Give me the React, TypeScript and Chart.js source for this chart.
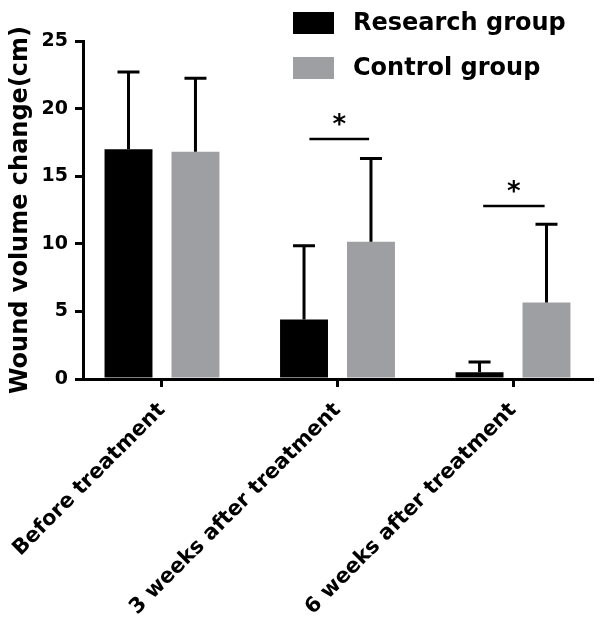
import React, { useEffect, useRef } from "react";
import { Chart, registerables } from "chart.js";

Chart.register(...registerables);

const categories = ["Before treatment", "3 weeks after treatment", "6 weeks after treatment"];
const seriesNames = ["Research group", "Control group"];
const researchMeans = [17.0, 4.4, 0.5];
const researchSD = [5.7, 5.45, 0.75];
const controlMeans = [16.8, 10.15, 5.65];
const controlSD = [5.45, 6.15, 5.8];
const yTicks = [0, 5, 10, 15, 20, 25];
const sigStart = [0.84, 1.83];
const sigEnd = [1.18, 2.18];
const sigY = [17.75, 12.8];
const sigLabel = ["*", "*"];

const FONT = "'DejaVu Sans', Arial, sans-serif";
const BLACK = "#000000";
const GRAY = "#9e9fa3";

export default function App() {
  const ref = useRef<HTMLCanvasElement | null>(null);

  useEffect(() => {
    if (!ref.current) return;
    const sds = [researchSD, controlSD];

    const errorBars = {
      id: "errorBars",
      afterDatasetsDraw(chart: any) {
        const ctx = chart.ctx;
        const y = chart.scales.y;
        ctx.save();
        ctx.strokeStyle = BLACK;
        ctx.lineWidth = 3;
        chart.data.datasets.forEach((ds: any, di: number) => {
          const meta = chart.getDatasetMeta(di);
          meta.data.forEach((bar: any, i: number) => {
            const v = ds.data[i].y;
            const top = y.getPixelForValue(v + sds[di][i]);
            const base = y.getPixelForValue(v);
            ctx.beginPath();
            ctx.moveTo(bar.x, base);
            ctx.lineTo(bar.x, top);
            ctx.moveTo(bar.x - 11, top);
            ctx.lineTo(bar.x + 11, top);
            ctx.stroke();
          });
        });
        ctx.restore();
      },
    };

    const significance = {
      id: "significance",
      afterDatasetsDraw(chart: any) {
        const ctx = chart.ctx;
        const xs = chart.scales.x;
        const ys = chart.scales.y;
        ctx.save();
        ctx.strokeStyle = BLACK;
        ctx.fillStyle = BLACK;
        ctx.lineWidth = 2.5;
        for (let i = 0; i < sigY.length; i++) {
          const x1 = xs.getPixelForValue(sigStart[i]);
          const x2 = xs.getPixelForValue(sigEnd[i]);
          const yy = ys.getPixelForValue(sigY[i]);
          ctx.beginPath();
          ctx.moveTo(x1, yy);
          ctx.lineTo(x2, yy);
          ctx.stroke();
          ctx.font = `bold 26px ${FONT}`;
          ctx.textAlign = "center";
          ctx.textBaseline = "middle";
          ctx.fillText(sigLabel[i], (x1 + x2) / 2, yy - 13);
        }
        ctx.restore();
      },
    };

    const customLegend = {
      id: "customLegend",
      afterDraw(chart: any) {
        const ctx = chart.ctx;
        ctx.save();
        chart.data.datasets.forEach((ds: any, i: number) => {
          const top = 12 + i * 45;
          ctx.fillStyle = ds.backgroundColor;
          ctx.fillRect(293, top, 41, 22);
          ctx.fillStyle = BLACK;
          ctx.font = `bold 24px ${FONT}`;
          ctx.textAlign = "left";
          ctx.textBaseline = "middle";
          ctx.fillText(ds.label, 353, top + 12);
        });
        ctx.restore();
      },
    };

    const chart = new Chart(ref.current, {
      type: "bar",
      data: {
        datasets: [
          {
            label: seriesNames[0],
            data: researchMeans.map((v, i) => ({ x: i, y: v })),
            backgroundColor: BLACK,
            borderWidth: 0,
            categoryPercentage: 0.763,
            barPercentage: 0.716,
          },
          {
            label: seriesNames[1],
            data: controlMeans.map((v, i) => ({ x: i, y: v })),
            backgroundColor: GRAY,
            borderWidth: 0,
            categoryPercentage: 0.763,
            barPercentage: 0.716,
          },
        ],
      },
      options: {
        responsive: false,
        animation: false,
        devicePixelRatio: 1,
        layout: { padding: { top: 41, right: 8, bottom: 0, left: 0 } },
        plugins: {
          legend: { display: false },
          tooltip: { enabled: false },
        },
        scales: {
          x: {
            type: "linear",
            offset: false,
            min: -0.45,
            max: 2.45,
            afterBuildTicks: (scale: any) => {
              scale.ticks = categories.map((_, i) => ({ value: i }));
            },
            afterFit: (scale: any) => {
              scale.height = 239;
              scale.paddingLeft = 0;
              scale.paddingRight = 0;
            },
            ticks: {
              autoSkip: false,
              minRotation: 45,
              maxRotation: 45,
              padding: 11,
              color: BLACK,
              font: { family: FONT, size: 21, weight: "bold" },
              callback: (v: any) => categories[Math.round(Number(v))] ?? "",
            },
            grid: {
              offset: false,
              drawOnChartArea: false,
              drawTicks: true,
              tickLength: 8,
              color: BLACK,
              lineWidth: 3,
            },
            border: { display: true, color: BLACK, width: 3 },
          },
          y: {
            min: 0,
            max: 25,
            afterBuildTicks: (scale: any) => {
              scale.ticks = yTicks.map((v) => ({ value: v }));
            },
            afterFit: (scale: any) => {
              scale.width = 83;
            },
            ticks: {
              padding: 7,
              color: BLACK,
              font: { family: FONT, size: 19, weight: "bold" },
            },
            grid: {
              drawOnChartArea: false,
              drawTicks: true,
              tickLength: 8,
              color: BLACK,
              lineWidth: 3,
            },
            border: { display: true, color: BLACK, width: 3 },
            title: {
              display: true,
              text: "Wound volume change(cm)",
              color: BLACK,
              font: { family: FONT, size: 24, weight: "bold" },
              padding: { top: 6, bottom: 0 },
            },
          },
        },
      },
      plugins: [errorBars, significance, customLegend],
    } as any);

    return () => chart.destroy();
  }, []);

  return (
    <div style={{ position: "fixed", left: 0, top: 0, width: 600, height: 618, background: "#fff" }}>
      <canvas ref={ref} width={600} height={618} style={{ display: "block" }} />
    </div>
  );
}
